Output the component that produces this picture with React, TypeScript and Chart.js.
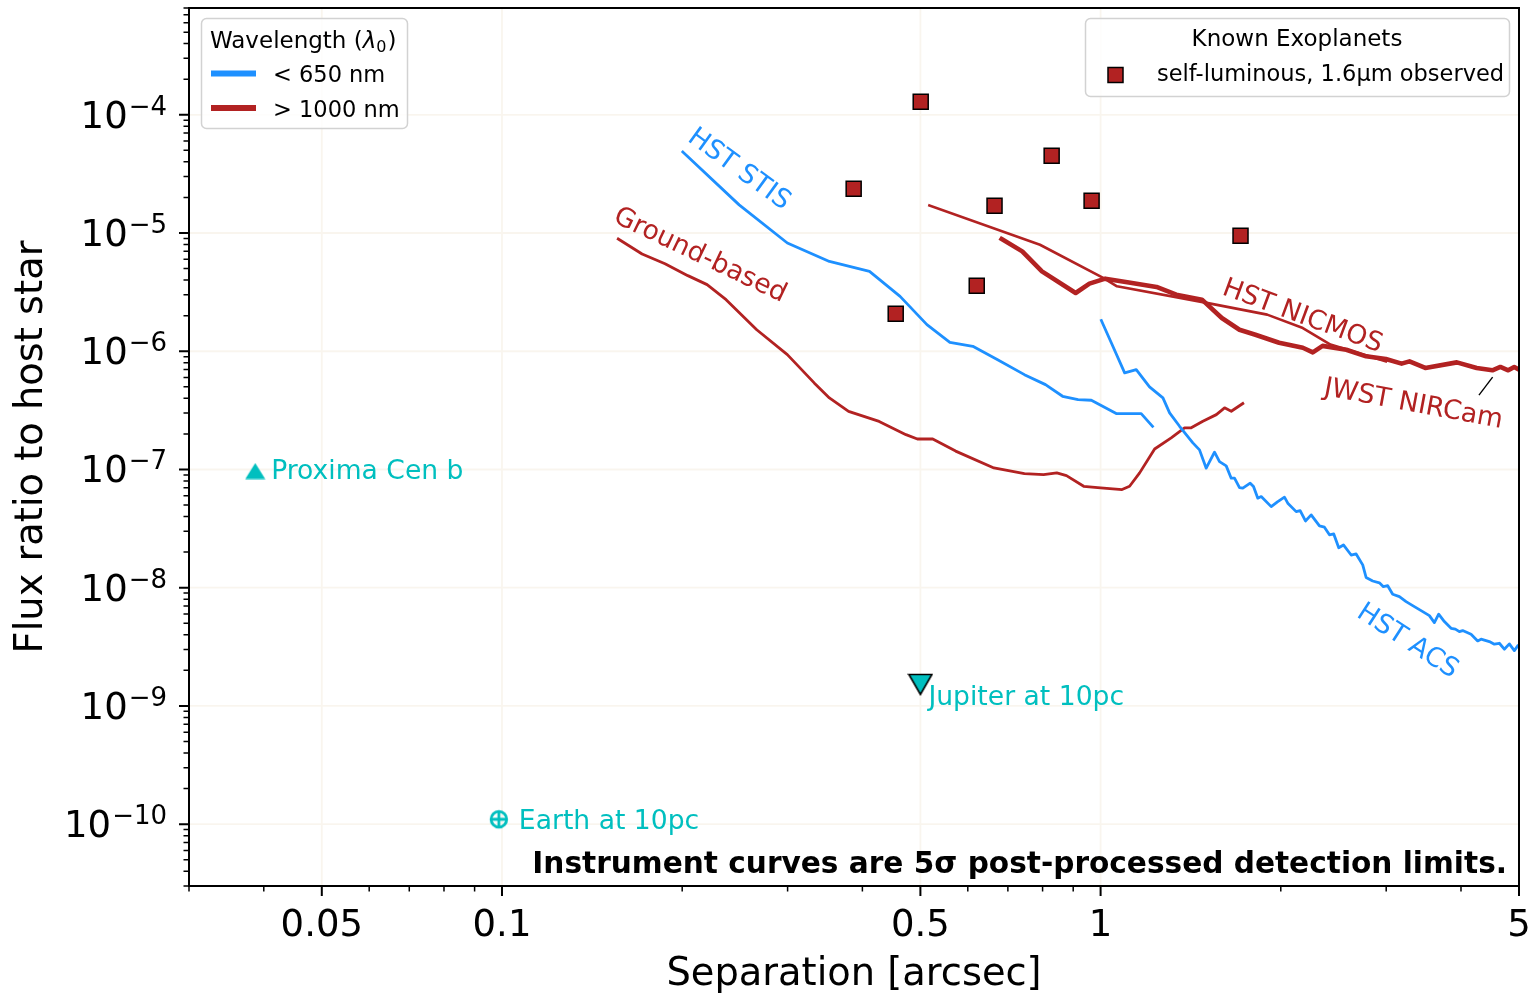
import React, { useEffect, useRef } from 'react';
import { Chart, registerables } from 'chart.js';

Chart.register(...registerables);

const BLUE = '#1E90FF';
const RED = '#B22222';
const CYAN = '#00BFBF';
const GRID_COLOR = 'rgba(215,190,150,0.16)';
const FONT = '"DejaVu Sans", "Liberation Sans", sans-serif';

// ---- axis ranges / ticks ----
const X_MIN = 0.03;
const X_MAX = 5;
const Y_MIN = 3e-11;
const Y_MAX = 8e-4;
const X_MAJOR = [0.05, 0.1, 0.5, 1, 5];
const X_MAJOR_LABELS = ['0.05', '0.1', '0.5', '1', '5'];
const X_MINOR = [0.03, 0.04, 0.06, 0.07, 0.08, 0.09, 0.2, 0.3, 0.4, 0.6, 0.7, 0.8, 0.9, 2, 3, 4];
const Y_MAJOR_EXP = [-4, -5, -6, -7, -8, -9, -10];
const Y_MINOR_DECADES = [-11, -10, -9, -8, -7, -6, -5, -4];
const Y_MINOR_MULT = [2, 3, 4, 5, 6, 7, 8, 9];

// ---- instrument curves ----
const stisSep = [0.2005, 0.249, 0.2997, 0.3523, 0.4111, 0.4624, 0.5127, 0.56, 0.6117, 0.673, 0.746, 0.809, 0.864, 0.917, 0.965, 1.062, 1.169, 1.221];
const stisFlux = [4.84e-5, 1.73e-5, 8.23e-6, 5.75e-6, 4.74e-6, 2.91e-6, 1.68e-6, 1.19e-6, 1.1e-6, 8.49e-7, 6.34e-7, 5.22e-7, 4.16e-7, 3.9e-7, 3.85e-7, 2.97e-7, 2.97e-7, 2.32e-7];

const groundSep = [0.1564, 0.1714, 0.1872, 0.2044, 0.2201, 0.2368, 0.2664, 0.2997, 0.3323, 0.3523, 0.3793, 0.4266, 0.473, 0.4942, 0.5243, 0.5726, 0.6634, 0.746, 0.803, 0.845, 0.877, 0.937, 1.0, 1.086, 1.118, 1.162, 1.231, 1.312, 1.381, 1.417, 1.482, 1.561, 1.611, 1.653, 1.728];
const groundFlux = [8.89e-6, 6.65e-6, 5.5e-6, 4.36e-6, 3.66e-6, 2.73e-6, 1.52e-6, 9.36e-7, 5.4e-7, 4.03e-7, 3.1e-7, 2.55e-7, 1.97e-7, 1.81e-7, 1.81e-7, 1.43e-7, 1.03e-7, 9.23e-8, 9.06e-8, 9.36e-8, 8.88e-8, 7.21e-8, 6.99e-8, 6.76e-8, 7.21e-8, 9.36e-8, 1.49e-7, 1.85e-7, 2.25e-7, 2.25e-7, 2.56e-7, 2.91e-7, 3.32e-7, 3.11e-7, 3.61e-7];

const nicmosSep = [0.5176, 0.792, 1.01, 1.065, 1.489, 1.898, 2.177, 2.421, 2.996];
const nicmosFlux = [1.71e-5, 7.96e-6, 4.17e-6, 3.54e-6, 2.59e-6, 2.04e-6, 1.57e-6, 1.14e-6, 8.22e-7];

const nircamSep = [0.6834, 0.7398, 0.798, 0.9085, 0.958, 1.018, 1.115, 1.24, 1.338, 1.477, 1.594, 1.706, 1.814, 1.987, 2.177, 2.262, 2.349, 2.573, 2.777, 2.996, 3.183, 3.281, 3.487, 3.937, 4.249, 4.514, 4.654, 4.797, 4.909, 5.0];
const nircamFlux = [8.89e-6, 6.99e-6, 4.74e-6, 3.11e-6, 3.73e-6, 4.11e-6, 3.82e-6, 3.5e-6, 3.01e-6, 2.73e-6, 1.91e-6, 1.52e-6, 1.38e-6, 1.18e-6, 1.07e-6, 9.79e-7, 1.11e-6, 1.03e-6, 9.06e-7, 8.61e-7, 7.86e-7, 8.21e-7, 7.22e-7, 8.05e-7, 7.22e-7, 6.9e-7, 7.36e-7, 6.9e-7, 7.36e-7, 6.99e-7];

const acsSep = [
  1.003, 1.042, 1.097, 1.147, 1.207, 1.271, 1.304, 1.355, 1.426, 1.463, 1.5012, 1.5499, 1.5799, 1.6212, 1.6527, 1.6738,
  1.7063, 1.7281, 1.778, 1.8007, 1.8307, 1.8548, 1.9275, 1.977, 2.0285, 2.0544, 2.1218, 2.1547, 2.1991, 2.2478, 2.3207,
  2.3657, 2.4117, 2.4519, 2.4994, 2.545, 2.6214, 2.6723, 2.7409, 2.7769, 2.8482, 2.9225, 2.9679, 3.0174, 3.0759, 3.1563,
  3.2386, 3.3218, 3.4308, 3.542, 3.6108, 3.671, 3.7523, 3.8501, 3.9143, 3.975, 4.0257, 4.1579, 4.2648, 4.3209, 4.461,
  4.5475, 4.6357, 4.7256, 4.8176, 4.911, 4.9737,
];
const acsFlux = [
  1.82e-6, 1.18e-6, 6.56e-7, 6.99e-7, 4.99e-7, 4.03e-7, 3.01e-7, 2.32e-7, 1.68e-7, 1.465e-7, 1.026e-7, 1.401e-7, 1.166e-7,
  1.073e-7, 8.44e-8, 8.44e-8, 7.03e-8, 6.95e-8, 7.66e-8, 7.17e-8, 5.72e-8, 5.9e-8, 4.85e-8, 5.35e-8, 5.83e-8, 5.19e-8,
  4.4e-8, 4.49e-8, 3.67e-8, 4.13e-8, 3.33e-8, 3.25e-8, 2.8e-8, 2.85e-8, 2.18e-8, 2.3e-8, 1.89e-8, 1.93e-8, 1.56e-8,
  1.22e-8, 1.14e-8, 1.1e-8, 1.02e-8, 1.04e-8, 8.81e-9, 8.41e-9, 7.63e-9, 7.06e-9, 6.4e-9, 5.81e-9, 5.07e-9, 5.97e-9,
  5.17e-9, 4.54e-9, 4.46e-9, 4.25e-9, 4.34e-9, 4.04e-9, 3.55e-9, 3.67e-9, 3.5e-9, 3.33e-9, 3.39e-9, 3.02e-9, 3.35e-9,
  2.94e-9, 3.22e-9,
];

// pointer line from the "JWST NIRCam" label to its curve
const pointerSep = [4.293, 4.51];
const pointerFlux = [4.3e-7, 5.98e-7];

// ---- known exoplanets ----
const exoSep = [0.3868, 0.5006, 0.665, 0.8284, 0.966, 0.621, 0.4547, 1.713];
const exoFlux = [2.37e-5, 1.29e-4, 1.7e-5, 4.5e-5, 1.87e-5, 3.58e-6, 2.08e-6, 9.49e-6];

// ---- reference objects ----
const refNames = ['Proxima Cen b', 'Jupiter at 10pc', 'Earth at 10pc'];
const refSep = [0.0387, 0.5, 0.0988];
const refFlux = [9.7e-8, 1.52e-9, 1.1e-10];

// ---- curve labels ----
const labelText = ['HST STIS', 'Ground-based', 'HST NICMOS', 'JWST NIRCam', 'HST ACS'];
const labelSep = [0.2487, 0.2141, 2.174, 3.33, 3.254];
const labelFlux = [3.43e-5, 6.43e-6, 1.96e-6, 3.54e-7, 3.51e-9];
const labelAngle = [36, 25.5, 20.3, 10.5, 33];
const labelColor = [BLUE, RED, RED, RED, BLUE];

const NOTE = 'Instrument curves are 5\u03c3 post-processed detection limits.';
const X_TITLE = 'Separation [arcsec]';
const Y_TITLE = 'Flux ratio to host star';
const LEGEND1_ENTRIES = ['< 650 nm', '> 1000 nm'];
const LEGEND2_TITLE = 'Known Exoplanets';
const LEGEND2_ENTRY = 'self-luminous, 1.6\u00b5m observed';

const pts = (xs: number[], ys: number[]) => xs.map((x, i) => ({ x, y: ys[i] }));

function makeTri(up: boolean, w: number, h: number, stroke: boolean) {
  const c = document.createElement('canvas');
  c.width = w;
  c.height = h;
  const g = c.getContext('2d')!;
  const p = stroke ? 1.5 : 0.5;
  g.beginPath();
  if (up) {
    g.moveTo(w / 2, p);
    g.lineTo(w - p, h - p);
    g.lineTo(p, h - p);
  } else {
    g.moveTo(p, p);
    g.lineTo(w - p, p);
    g.lineTo(w / 2, h - p);
  }
  g.closePath();
  g.fillStyle = CYAN;
  g.fill();
  if (stroke) {
    g.strokeStyle = '#000';
    g.lineWidth = 1.6;
    g.lineJoin = 'miter';
    g.stroke();
  }
  return c;
}

function makeEarth() {
  const c = document.createElement('canvas');
  c.width = 22;
  c.height = 22;
  const g = c.getContext('2d')!;
  g.strokeStyle = CYAN;
  g.lineWidth = 2.8;
  g.beginPath();
  g.arc(11, 11, 7.8, 0, Math.PI * 2);
  g.stroke();
  g.beginPath();
  g.moveTo(3, 11);
  g.lineTo(19, 11);
  g.moveTo(11, 3);
  g.lineTo(11, 19);
  g.stroke();
  return c;
}

const overlayPlugin = {
  id: 'overlay',
  beforeDatasetsDraw(chart: any) {
    const { ctx, chartArea: a } = chart;
    const xs = chart.scales.x;
    const ys = chart.scales.y;
    ctx.save();
    ctx.strokeStyle = GRID_COLOR;
    ctx.lineWidth = 1.8;
    ctx.beginPath();
    for (const v of X_MAJOR) {
      const px = xs.getPixelForValue(v);
      ctx.moveTo(px, a.top);
      ctx.lineTo(px, a.bottom);
    }
    for (const e of Y_MAJOR_EXP) {
      const py = ys.getPixelForValue(Math.pow(10, e));
      ctx.moveTo(a.left, py);
      ctx.lineTo(a.right, py);
    }
    ctx.stroke();
    ctx.restore();
  },
  afterDatasetsDraw(chart: any) {
    const { ctx, chartArea: a } = chart;
    const xs = chart.scales.x;
    const ys = chart.scales.y;
    ctx.save();

    // curve labels
    ctx.font = `26.6px ${FONT}`;
    ctx.textAlign = 'center';
    ctx.textBaseline = 'middle';
    labelText.forEach((t, i) => {
      const px = xs.getPixelForValue(labelSep[i]);
      const py = ys.getPixelForValue(labelFlux[i]);
      ctx.save();
      ctx.translate(px, py);
      ctx.rotate((labelAngle[i] * Math.PI) / 180);
      ctx.fillStyle = labelColor[i];
      ctx.fillText(t, 0, 0);
      ctx.restore();
    });

    // reference object labels
    ctx.textAlign = 'left';
    ctx.textBaseline = 'alphabetic';
    ctx.fillStyle = CYAN;
    const offs = [
      [16, 8],
      [8, 20.5],
      [20, 10],
    ];
    refNames.forEach((t, i) => {
      const px = xs.getPixelForValue(refSep[i]);
      const py = ys.getPixelForValue(refFlux[i]);
      ctx.fillText(t, px + offs[i][0], py + offs[i][1]);
    });

    // note
    ctx.font = `bold 29.6px ${FONT}`;
    ctx.fillStyle = '#000';
    ctx.textAlign = 'right';
    ctx.fillText(NOTE, a.right - 12, a.bottom - 13);

    // legend 1
    ctx.beginPath();
    ctx.roundRect(201.5, 18.5, 206, 110, 5);
    ctx.fillStyle = 'rgba(255,255,255,0.85)';
    ctx.fill();
    ctx.strokeStyle = '#d2d2d2';
    ctx.lineWidth = 1.5;
    ctx.stroke();
    ctx.fillStyle = '#000';
    ctx.textAlign = 'left';
    ctx.font = `23px ${FONT}`;
    let tx = 210;
    ctx.fillText('Wavelength (', tx, 48);
    tx += ctx.measureText('Wavelength (').width;
    ctx.font = `italic 23px ${FONT}`;
    ctx.fillText('\u03bb', tx, 48);
    tx += ctx.measureText('\u03bb').width;
    ctx.font = `16px ${FONT}`;
    ctx.fillText('0', tx, 52);
    tx += ctx.measureText('0').width;
    ctx.font = `23px ${FONT}`;
    ctx.fillText(')', tx + 1, 48);
    const lcol = [BLUE, RED];
    const ly = [73.5, 108];
    LEGEND1_ENTRIES.forEach((t, i) => {
      ctx.strokeStyle = lcol[i];
      ctx.lineWidth = 6;
      ctx.beginPath();
      ctx.moveTo(211, ly[i]);
      ctx.lineTo(256, ly[i]);
      ctx.stroke();
      ctx.fillStyle = '#000';
      ctx.font = `22.5px ${FONT}`;
      ctx.fillText(t, 273, ly[i] + 8.5);
    });

    // legend 2
    ctx.beginPath();
    ctx.roundRect(1085.5, 18.5, 424, 78, 5);
    ctx.fillStyle = 'rgba(255,255,255,0.85)';
    ctx.fill();
    ctx.strokeStyle = '#d2d2d2';
    ctx.lineWidth = 1.5;
    ctx.stroke();
    ctx.fillStyle = '#000';
    ctx.font = `23px ${FONT}`;
    ctx.textAlign = 'center';
    ctx.fillText(LEGEND2_TITLE, 1297, 46);
    ctx.fillStyle = RED;
    ctx.fillRect(1108, 67.5, 15, 15);
    ctx.strokeStyle = '#000';
    ctx.lineWidth = 1.5;
    ctx.strokeRect(1108, 67.5, 15, 15);
    ctx.fillStyle = '#000';
    ctx.textAlign = 'left';
    ctx.font = `22.5px ${FONT}`;
    ctx.fillText(LEGEND2_ENTRY, 1157, 81);

    // frame
    ctx.strokeStyle = '#000';
    ctx.lineWidth = 2;
    ctx.strokeRect(a.left, a.top, a.right - a.left, a.bottom - a.top);

    // ticks
    ctx.beginPath();
    ctx.lineWidth = 2;
    for (const v of X_MAJOR) {
      const px = xs.getPixelForValue(v);
      ctx.moveTo(px, a.bottom);
      ctx.lineTo(px, a.bottom + 10);
    }
    for (const e of Y_MAJOR_EXP) {
      const py = ys.getPixelForValue(Math.pow(10, e));
      ctx.moveTo(a.left, py);
      ctx.lineTo(a.left - 10, py);
    }
    ctx.stroke();
    ctx.beginPath();
    ctx.lineWidth = 1.5;
    for (const v of X_MINOR) {
      const px = xs.getPixelForValue(v);
      ctx.moveTo(px, a.bottom);
      ctx.lineTo(px, a.bottom + 5.5);
    }
    for (const d of Y_MINOR_DECADES) {
      for (const m of Y_MINOR_MULT) {
        const v = m * Math.pow(10, d);
        if (v < Y_MIN || v > Y_MAX) continue;
        const py = ys.getPixelForValue(v);
        ctx.moveTo(a.left, py);
        ctx.lineTo(a.left - 5.5, py);
      }
    }
    ctx.stroke();

    // x tick labels
    ctx.fillStyle = '#000';
    ctx.font = `37px ${FONT}`;
    ctx.textAlign = 'center';
    ctx.textBaseline = 'alphabetic';
    X_MAJOR.forEach((v, i) => {
      ctx.fillText(X_MAJOR_LABELS[i], xs.getPixelForValue(v), a.bottom + 50);
    });

    // y tick labels
    Y_MAJOR_EXP.forEach((e) => {
      const py = ys.getPixelForValue(Math.pow(10, e));
      const right = a.left - 22;
      const expStr = '\u2212' + Math.abs(e);
      ctx.font = `26px ${FONT}`;
      ctx.textAlign = 'right';
      const we = ctx.measureText(expStr).width;
      ctx.fillText(expStr, right, py);
      ctx.font = `37px ${FONT}`;
      ctx.fillText('10', right - we - 1, py + 13);
    });

    // axis titles
    ctx.font = `38.4px ${FONT}`;
    ctx.textAlign = 'center';
    ctx.fillText(X_TITLE, (a.left + a.right) / 2, 985);
    ctx.save();
    ctx.translate(42, (a.top + a.bottom) / 2);
    ctx.rotate(-Math.PI / 2);
    ctx.fillText(Y_TITLE, 0, 0);
    ctx.restore();

    ctx.restore();
  },
};

export default function App() {
  const ref = useRef<HTMLCanvasElement | null>(null);

  useEffect(() => {
    const canvas = ref.current;
    if (!canvas) return;
    const triUp = makeTri(true, 21, 17, false);
    const triDown = makeTri(false, 26, 23, true);
    const earth = makeEarth();

    const line = (label: string, x: number[], y: number[], color: string, width: number) => ({
      label,
      data: pts(x, y),
      showLine: true,
      borderColor: color,
      backgroundColor: color,
      borderWidth: width,
      pointRadius: 0,
      pointHoverRadius: 0,
      tension: 0,
      borderJoinStyle: 'round',
      borderCapStyle: 'square',
      order: 2,
    });

    const chart = new Chart(canvas, {
      type: 'scatter',
      data: {
        datasets: [
          {
            label: 'Known Exoplanets',
            data: pts(exoSep, exoFlux),
            pointStyle: 'rect',
            pointRadius: 10.6,
            pointHoverRadius: 10.6,
            backgroundColor: RED,
            borderColor: '#000',
            borderWidth: 1.5,
            showLine: false,
            order: 0,
          },
          {
            label: 'refs',
            data: pts(refSep, refFlux),
            pointStyle: [triUp, triDown, earth] as any,
            pointRadius: 10,
            pointHoverRadius: 10,
            showLine: false,
            order: 0,
          },
          line('HST STIS', stisSep, stisFlux, BLUE, 2.8),
          line('HST ACS', acsSep, acsFlux, BLUE, 2.8),
          line('Ground-based', groundSep, groundFlux, RED, 2.8),
          line('HST NICMOS', nicmosSep, nicmosFlux, RED, 2.6),
          line('JWST NIRCam', nircamSep, nircamFlux, RED, 4.6),
          line('pointer', pointerSep, pointerFlux, '#000', 1.4),
        ] as any,
      },
      options: {
        responsive: false,
        animation: false,
        devicePixelRatio: 1,
        events: [],
        layout: { autoPadding: false, padding: { left: 189, top: 8, right: 15, bottom: 108 } },
        scales: {
          x: { type: 'logarithmic', min: X_MIN, max: X_MAX, display: false },
          y: { type: 'logarithmic', min: Y_MIN, max: Y_MAX, display: false },
        },
        plugins: { legend: { display: false }, tooltip: { enabled: false } },
      } as any,
      plugins: [overlayPlugin as any],
    });
    return () => chart.destroy();
  }, []);

  return (
    <div style={{ position: 'fixed', left: 0, top: 0, width: 1534, height: 994, background: '#fff' }}>
      <canvas ref={ref} width={1534} height={994} style={{ display: 'block' }} />
    </div>
  );
}
